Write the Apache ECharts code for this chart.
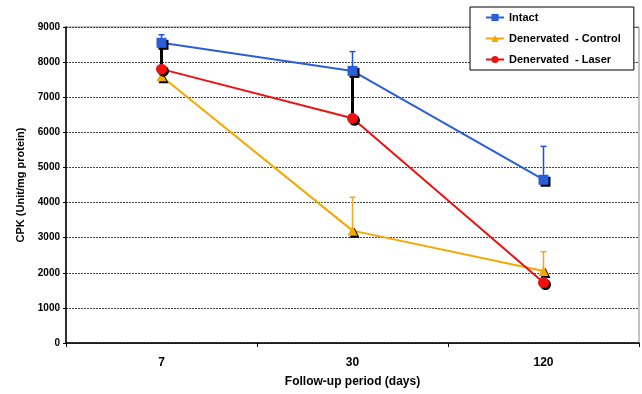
<!DOCTYPE html>
<html>
<head>
<meta charset="utf-8">
<script src="https://cdn.jsdelivr.net/npm/echarts@6/dist/echarts.min.js"></script>
<style>
  html, body { margin: 0; padding: 0; background: #fff; }
</style>
</head>
<body>
<div id="chart" style="width:642px;height:394px"></div>
<script>
// data
const days = ["7", "30", "120"];
const intact = [8550, 7750, 4650];
const control = [7600, 3200, 2050];
const laser = [7800, 6400, 1720];
// upper error bar ends
const intactUp = [8780, 8300, 5600];
const controlUp = [null, 4150, 2600];
// black lower bars (from intact down)
const intactDown = [7500, 6400, null];

const font = "Liberation Sans, Arial, sans-serif";

function errData(base, ends) {
  const out = [];
  base.forEach(function (v, i) {
    if (ends[i] != null) out.push([i, v, ends[i]]);
  });
  return out;
}

function errSeries(data, color, width) {
  return {
    type: "custom",
    silent: true,
    z: 1,
    data: data,
    renderItem: function (params, api) {
      const x = api.value(0);
      const p0 = api.coord([x, api.value(1)]);
      const p1 = api.coord([x, api.value(2)]);
      return {
        type: "group",
        children: [
          { type: "line", shape: { x1: p0[0], y1: p0[1], x2: p1[0], y2: p1[1] },
            style: { stroke: color, lineWidth: width } },
          { type: "line", shape: { x1: p1[0] - 3, y1: p1[1], x2: p1[0] + 3, y2: p1[1] },
            style: { stroke: color, lineWidth: width } }
        ]
      };
    }
  };
}

function lineSeries(name, data, color, symbol, size) {
  return {
    name: name,
    type: "line",
    z: 3,
    data: data,
    symbol: symbol,
    symbolSize: size,
    lineStyle: { color: color, width: 2 },
    itemStyle: {
      color: color,
      shadowColor: "#000",
      shadowOffsetX: 2,
      shadowOffsetY: 2,
      shadowBlur: 0
    }
  };
}

const chart = echarts.init(document.getElementById("chart"));
chart.setOption({
  animation: false,
  backgroundColor: "#fff",
  grid: {
    left: 66, top: 27, right: 3, bottom: 51,
    show: true, borderColor: "#888", borderWidth: 1
  },
  legend: {
    left: 470, top: 7,
    orient: "vertical",
    backgroundColor: "#fff",
    borderColor: "#000",
    borderWidth: 1,
    padding: [5, 13, 5, 15],
    itemGap: 10,
    itemWidth: 18,
    itemHeight: 9,
    textStyle: { fontFamily: font, fontWeight: "bold", fontSize: 11, color: "#000" },
    data: ["Intact", "Denervated  - Control", "Denervated  - Laser"]
  },
  xAxis: {
    type: "category",
    data: days,
    boundaryGap: true,
    name: "Follow-up period (days)",
    nameLocation: "middle",
    nameGap: 33,
    nameTextStyle: { fontFamily: font, fontWeight: "bold", fontSize: 12, color: "#000" },
    axisLine: { lineStyle: { color: "#000", width: 1.5 } },
    axisTick: { show: true, length: 4, lineStyle: { color: "#000" } },
    axisLabel: { fontFamily: font, fontWeight: "bold", fontSize: 12, color: "#000", margin: 14 }
  },
  yAxis: {
    type: "value",
    min: 0, max: 9000, interval: 1000,
    name: "CPK (Unit/mg protein)",
    nameLocation: "middle",
    nameGap: 40,
    nameTextStyle: { fontFamily: font, fontWeight: "bold", fontSize: 11, color: "#000" },
    axisLine: { show: true, lineStyle: { color: "#000", width: 1.5 } },
    axisTick: { show: true, length: 3, lineStyle: { color: "#000" } },
    axisLabel: {
      fontFamily: font, fontWeight: "bold", fontSize: 10, color: "#000", margin: 6,
      formatter: function (v) { return String(v); }
    },
    splitLine: { lineStyle: { color: "#444", type: [2, 1], width: 1 } }
  },
  series: [
    errSeries(errData(intact, intactDown), "#000", 3),
    errSeries(errData(intact, intactUp), "#1f4fd6", 1.5),
    errSeries(errData(control, controlUp), "#f5a623", 1.5),
    lineSeries("Intact", intact, "#2a5fd8", "rect", 10),
    lineSeries("Denervated  - Control", control, "#f5a800", "triangle", 10),
    lineSeries("Denervated  - Laser", laser, "#ee1111", "circle", 11)
  ]
});
</script>
</body>
</html>
